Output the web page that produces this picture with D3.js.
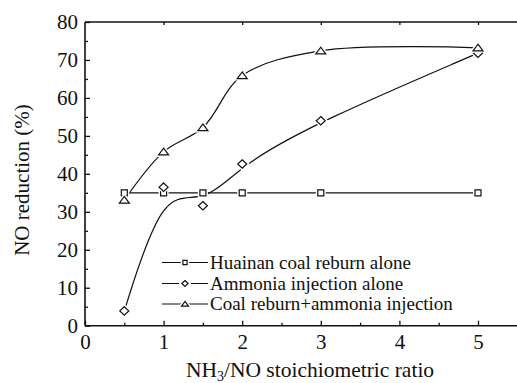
<!DOCTYPE html>
<html>
<head>
<meta charset="utf-8">
<script src="https://cdn.jsdelivr.net/npm/d3@7"></script>
<style>
  html, body { margin: 0; padding: 0; background: #fff; }
  svg { display: block; }
</style>
</head>
<body>
<svg id="chart" width="517" height="383"></svg>
<script>
// NH3/NO stoichiometric ratio for each measurement
const ratios = [0.5, 1, 1.5, 2, 3, 5];

// NO reduction (%) for the three operating modes
const coalReburnAlone = [35, 35, 35, 35, 35, 35];
const ammoniaAlone = [3.9, 36.5, 31.6, 42.6, 54.0, 71.8];
const reburnPlusAmmonia = [33.1, 45.8, 52.2, 65.9, 72.4, 73.2];

const seriesNames = [
  "Huainan coal reburn alone",
  "Ammonia injection alone",
  "Coal reburn+ammonia injection"
];

const xTicks = [0, 1, 2, 3, 4, 5];
const yTicks = [0, 10, 20, 30, 40, 50, 60, 70, 80];

const FONT = "'Liberation Serif', 'Times New Roman', serif";
const ink = "#111";

const svg = d3.select("#chart");
const plotLeft = 85, plotRight = 556.6, plotTop = 22, plotBottom = 325.7;

const x = d3.scaleLinear().domain([0, 6]).range([plotLeft, plotRight]);
const y = d3.scaleLinear().domain([0, 80]).range([plotBottom, plotTop]);

// Frame lines (right edge runs past the visible area)
const frame = svg.append("g").attr("stroke", ink).attr("stroke-width", 1.6).attr("fill", "none");
frame.append("line").attr("x1", plotLeft).attr("x2", 517).attr("y1", plotBottom).attr("y2", plotBottom);
frame.append("line").attr("x1", plotLeft).attr("x2", 517).attr("y1", plotTop).attr("y2", plotTop);
frame.append("line").attr("x1", plotLeft).attr("x2", plotLeft).attr("y1", plotTop).attr("y2", plotBottom);

function styleAxis(g) {
  g.select(".domain").remove();
  g.selectAll(".tick line").attr("stroke", ink).attr("stroke-width", 1.3);
  g.selectAll(".tick text").attr("font-family", FONT).attr("fill", ink).attr("font-size", 21);
}

// Bottom axis: inward ticks, major at integers, minor at halves
const xAxis = d3.axisBottom(x).tickValues(xTicks).tickSize(-5).tickPadding(8).tickFormat(d3.format("d"));
const gx = svg.append("g").attr("transform", `translate(0,${plotBottom})`).call(xAxis);
styleAxis(gx);
gx.selectAll(".tick text").attr("dy", "0.71em");

const xMinor = d3.axisBottom(x).tickValues([0.5, 1.5, 2.5, 3.5, 4.5, 5.5]).tickSize(-3).tickFormat("");
styleAxis(svg.append("g").attr("transform", `translate(0,${plotBottom})`).call(xMinor));

// Top axis: small inward ticks at integers
const xTop = d3.axisTop(x).tickValues([1, 2, 3, 4, 5]).tickSize(-3).tickFormat("");
styleAxis(svg.append("g").attr("transform", `translate(0,${plotTop})`).call(xTop));

// Left axis: inward ticks, major every 10, minor every 5
const yAxis = d3.axisLeft(y).tickValues(yTicks).tickSize(-5).tickPadding(7).tickFormat(d3.format("d"));
styleAxis(svg.append("g").attr("transform", `translate(${plotLeft},0)`).call(yAxis));

const yMinor = d3.axisLeft(y).tickValues(d3.range(5, 80, 10)).tickSize(-3).tickFormat("");
styleAxis(svg.append("g").attr("transform", `translate(${plotLeft},0)`).call(yMinor));

// Axis titles
svg.append("text")
  .attr("transform", `translate(29,180) rotate(-90)`)
  .attr("text-anchor", "middle")
  .attr("font-family", FONT).attr("fill", ink)
  .attr("font-size", 21)
  .text("NO reduction (%)");

const xt = svg.append("text")
  .attr("x", 310).attr("y", 377)
  .attr("text-anchor", "middle")
  .attr("font-family", FONT).attr("fill", ink)
  .attr("font-size", 21.5);
xt.append("tspan").text("NH");
xt.append("tspan").attr("font-size", 14).attr("dy", 4).text("3");
xt.append("tspan").attr("dy", -4).text("/NO stoichiometric ratio");

// Marker outlines, scaled by s (s = 1 in the plot)
const markerPath = [
  s => { const h = 3 * s; return `M${-h},${-h}H${h}V${h}H${-h}Z`; },
  s => { const w = 4.5 * s, h = 4.2 * s; return `M0,${-h}L${w},0L0,${h}L${-w},0Z`; },
  s => { const w = 5 * s, h = 3.6 * s; return `M0,${-h}L${w},${h * 0.85}L${-w},${h * 0.85}Z`; }
];

const curves = [
  d3.curveLinear,
  d3.curveBasis,
  d3.curveCatmullRom.alpha(0.5)
];

const seriesValues = [coalReburnAlone, ammoniaAlone, reburnPlusAmmonia];

const plot = svg.append("g");

seriesValues.forEach((vals, i) => {
  const pts = ratios.map((r, j) => [r, vals[j]]);
  const line = d3.line().x(d => x(d[0])).y(d => y(d[1])).curve(curves[i]);
  plot.append("path")
    .attr("d", line(pts))
    .attr("fill", "none")
    .attr("stroke", ink)
    .attr("stroke-width", 1.2);
});

function drawMarker(g, i, cx, cy, s) {
  const d = markerPath[i](s);
  g.append("path").attr("d", d).attr("transform", `translate(${cx},${cy})`)
    .attr("fill", "#fff").attr("stroke", "#fff").attr("stroke-width", 4);
  g.append("path").attr("d", d).attr("transform", `translate(${cx},${cy})`)
    .attr("fill", "#fff").attr("stroke", ink).attr("stroke-width", 1.2);
}

seriesValues.forEach((vals, i) => {
  ratios.forEach((r, j) => drawMarker(plot, i, x(r), y(vals[j]), 1));
});

// Legend
const legend = svg.append("g");
const legendY = [262.5, 283.5, 304];
seriesNames.forEach((name, i) => {
  const ly = legendY[i];
  legend.append("line").attr("x1", 162).attr("x2", 208).attr("y1", ly).attr("y2", ly)
    .attr("stroke", ink).attr("stroke-width", 1.2);
  drawMarker(legend, i, 185, ly, 0.7);
  legend.append("text").attr("x", 210).attr("y", ly).attr("dy", "0.33em")
    .attr("font-family", FONT).attr("fill", ink)
    .attr("font-size", 19).text(name);
});
</script>
</body>
</html>
